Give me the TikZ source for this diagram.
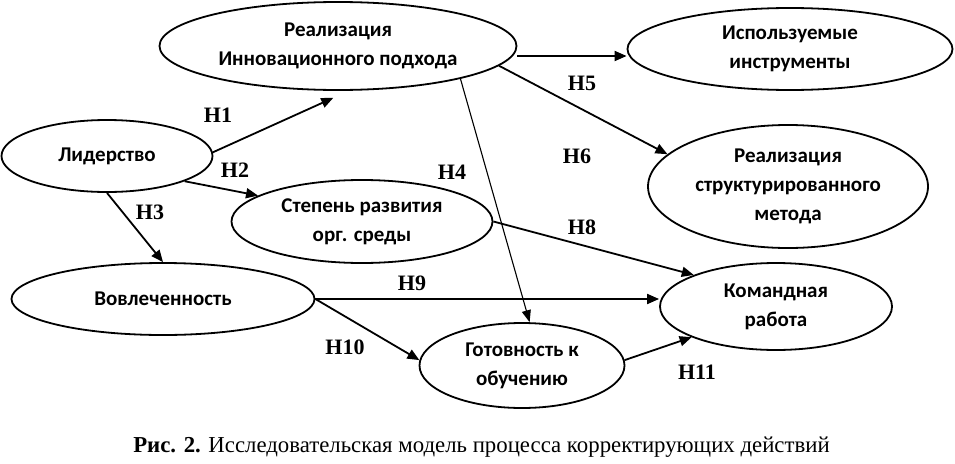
\documentclass[tikz,border=0pt]{standalone}
\usepackage{fontspec}
\setmainfont{Liberation Serif}
\newfontfamily\nodefont{Carlito}
\usetikzlibrary{shapes.geometric,arrows.meta}
\begin{document}
\begin{tikzpicture}[x=1pt,y=-1pt,
  ell/.style={draw,line width=1.8pt,ellipse,inner sep=0pt,align=center,
    font=\nodefont\bfseries\fontsize{21}{29}\selectfont},
  arr/.style={line width=1.8pt,-{Triangle[length=12pt,width=10pt]}},
  thinarr/.style={line width=1.1pt,-{Triangle[length=12pt,width=9pt]}},
  hlab/.style={font=\bfseries\fontsize{22}{22}\selectfont,inner sep=0pt}]
\useasboundingbox (0,0) rectangle (955,463);
\node[ell,minimum width=357pt,minimum height=88pt] (inn) at (338,46) {Реализация\\Инновационного подхода};
\node[ell,minimum width=325pt,minimum height=82pt] (ins) at (790,49) {Используемые\\инструменты};
\node[ell,minimum width=280pt,minimum height=123pt] (str) at (788,186.5) {Реализация\\структурированного\\метода};
\node[ell,minimum width=211pt,minimum height=72pt] (lid) at (107,156) {Лидерство};
\node[ell,minimum width=261pt,minimum height=83pt] (ster) at (362,221.5) {Степень развития\\орг. среды};
\node[ell,minimum width=303pt,minimum height=72pt] (vov) at (163,299) {Вовлеченность};
\node[ell,minimum width=205pt,minimum height=85pt] (got) at (522,365.5) {Готовность к\\обучению};
\node[ell,minimum width=232pt,minimum height=87pt] (kom) at (776,306.5) {Командная\\работа};
% connectors
\draw[arr] (lid.2) -- ([yshift=-7pt]inn.-96);
\draw[arr] (lid.-18) -- (ster.166);
\draw[arr] (lid.south) -- (vov.north);
\draw[thinarr] (inn.-15) -- (got.80);
\draw[arr] ([yshift=-10pt]inn.east) -- ([yshift=-7pt]ins.west);
\draw[arr] (inn.-7) -- (str.165);
\draw[arr] (ster.east) -- (kom.159);
\draw[arr] (vov.east) -- (vov.east -| kom.west);
\draw[arr] (vov.east) -- (got.177);
\draw[arr] (got.3) -- (kom.200);
% labels
\node[hlab] (h1) at (218,115) {H1};
\node[hlab] (h2) at (235,170) {H2};
\node[hlab] (h3) at (150,212) {H3};
\node[hlab] (h4) at (452,172) {H4};
\node[hlab] (h5) at (582,83) {H5};
\node[hlab] (h6) at (577,156) {H6};
\node[hlab] (h8) at (582,227) {H8};
\node[hlab] (h9) at (412,283) {H9};
\node[hlab] (h10) at (345,347) {H10};
\node[hlab] (h11) at (697,372) {H11};
\node[font=\fontsize{22.8}{24}\selectfont,inner sep=0pt] (cap) at (481.5,447) {\textbf{Рис. 2.} Исследовательская модель процесса корректирующих действий};
\end{tikzpicture}
\end{document}
